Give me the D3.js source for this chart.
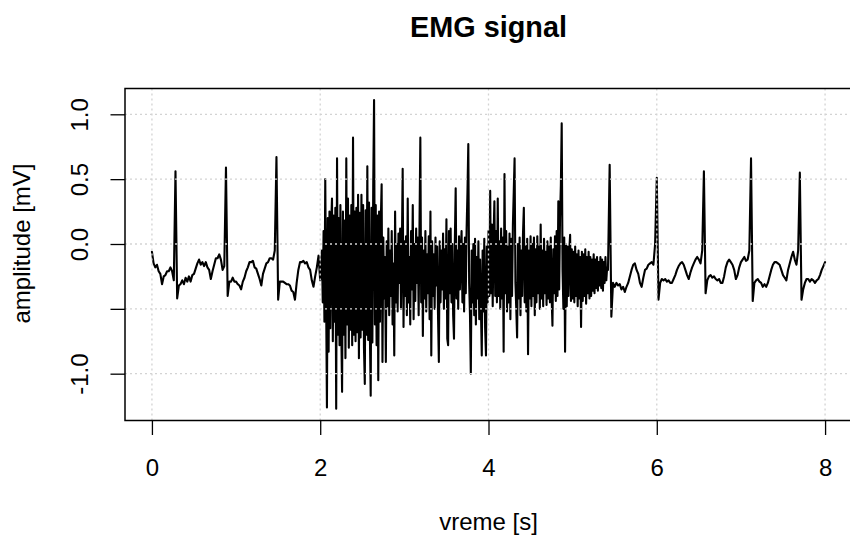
<!DOCTYPE html>
<html>
<head>
<meta charset="utf-8">
<script src="https://cdn.jsdelivr.net/npm/d3@7"></script>
<style>
  body { margin: 0; background: #fff; }
  svg { display: block; font-family: "Liberation Sans", Arial, sans-serif; }
</style>
</head>
<body>
<svg id="chart" width="850" height="538"></svg>
<script>
// ECG before the contraction, 0.00 .. 2.00 s, step 0.02 s
var ecgStart = [
  -0.06, -0.15, -0.18, -0.16, -0.21, -0.23, -0.31, -0.25, -0.24, -0.21,
  -0.21, -0.18, -0.21, -0.28,  0.56, -0.42, -0.32, -0.31, -0.28, -0.31,
  -0.26, -0.29, -0.25, -0.29, -0.24, -0.23, -0.19, -0.15, -0.12, -0.16,
  -0.14, -0.17, -0.14, -0.18, -0.20, -0.27, -0.21, -0.16, -0.11, -0.11,
  -0.08, -0.12, -0.20, -0.17,  0.59, -0.40, -0.29, -0.29, -0.26, -0.29,
  -0.29, -0.31, -0.32, -0.35, -0.29, -0.26, -0.21, -0.18, -0.14, -0.14,
  -0.13, -0.18, -0.19, -0.23, -0.27, -0.32, -0.23, -0.19, -0.15, -0.14,
  -0.11, -0.11, -0.12, -0.05,  0.67, -0.43, -0.29, -0.29, -0.29, -0.30,
  -0.31, -0.31, -0.32, -0.36, -0.37, -0.43, -0.30, -0.20, -0.14, -0.14,
  -0.13, -0.15, -0.14, -0.18, -0.20, -0.28, -0.33, -0.25, -0.18, -0.09,
  -0.28
];

// muscle burst, 2.02 .. 5.41 s, step 0.01 s
var emgBurst = [
  -0.05, -0.45,  0.10, -0.60,  0.50, -0.40, -1.26,  0.20, -0.83,  0.25,
  -0.65,  0.15,  0.35, -0.75,  0.22, -0.60,  0.28, -1.27,  0.66, -0.70,
   0.20, -0.78,  0.30, -0.65, -1.14,  0.25, -0.70,  0.18, -0.88,  0.66,
  -0.62,  0.35, -0.80,  0.22, -0.66,  0.30, -0.78,  0.82, -0.70,  0.25,
  -0.75,  0.28, -0.68,  0.38, -0.88,  0.24, -0.72,  0.38, -0.66,  0.30,
  -0.80, -1.08,  0.26, -0.70,  0.60, -0.74,  0.32, -0.68, -1.17,  0.28,
  -0.76,  0.45,  1.11, -0.62,  0.30, -0.78,  0.22, -1.05,  0.25, -0.60,
   0.18,  0.46, -0.91,  0.05, -0.42, -0.10, -0.91,  0.02, -0.48,  0.12,
  -0.55, -0.05, -0.40,  0.10, -0.62, -0.15, -0.86,  0.25, -0.45,  0.00,
  -0.52,  0.08, -0.30,  0.12, -0.50, -0.05,  0.58, -0.64,  0.02, -0.40,
   0.06, -0.55,  0.35, -0.45, -0.10, -0.62,  0.10, -0.35,  0.30, -0.58,
   0.00, -0.44,  0.12, -0.30,  0.05, -0.55,  0.15,  0.82, -0.45,  0.05,
  -0.71, -0.05, -0.42,  0.10, -0.52, -0.08, -0.38,  0.06, -0.58,  0.25,
  -0.86,  0.02, -0.40, -0.08, -0.50,  0.05, -0.32, -0.02, -0.55, -0.91,
   0.02, -0.45, -0.05, -0.35,  0.08, -0.50, -0.04, -0.42,  0.19, -0.73,
  -0.78,  0.10, -0.38,  0.12, -0.45,  0.00, -0.55, -0.73,  0.02,  0.43,
  -0.42, -0.05, -0.50,  0.06, -0.35, -0.08,  0.10, -0.45,  0.00, -0.52,
   0.05, -0.38,  0.12,  0.40,  0.77, -0.30, -0.55, -1.00, -0.05, -0.45,
   0.00, -0.55,  0.04, -0.62, -0.10, -0.42,  0.02, -0.58, -0.12, -0.50,
  -0.86, -0.05, -0.52,  0.04, -0.65, -0.86, -0.02, -0.45,  0.10, -0.40,
   0.41, -0.38,  0.15, -0.48,  0.05,  0.33, -0.40,  0.10, -0.45,  0.35,
  -0.40,  0.02, -0.50,  0.12, -0.42,  0.05, -0.83,  0.54, -0.38,  0.10,
  -0.52, -0.02, -0.45,  0.08, -0.58,  0.04, -0.40,  0.15,  0.40,  0.66,
  -0.30, -0.50, -0.72,  0.00, -0.42,  0.05, -0.55, -0.05, -0.40,  0.08,
   0.28, -0.45, -0.02, -0.52,  0.04, -0.85, -0.05, -0.42,  0.06, -0.48,
   0.00, -0.40,  0.05, -0.55, -0.04, -0.45,  0.06, -0.38, -0.02, -0.50,
   0.15, -0.42, -0.05, -0.48,  0.04, -0.38, -0.06, -0.47,  0.02, -0.42,
  -0.02, -0.45,  0.05, -0.40, -0.63, -0.04, -0.38,  0.06, -0.44,  0.10,
  -0.40,  0.33, -0.35,  0.20,  0.45,  0.93, -0.20, -0.50,  0.05, -0.83,
   0.00, -0.48, -0.02, -0.40, -0.05,  0.07, -0.44, -0.04, -0.42, -0.06,
  -0.45, -0.02, -0.40, -0.08, -0.48, -0.05, -0.42, -0.10, -0.64, -0.06,
  -0.44, -0.08, -0.40, -0.04, -0.46, -0.10, -0.38, -0.06, -0.42, -0.10,
  -0.40, -0.12, -0.36, -0.08, -0.38, -0.12, -0.34, -0.10, -0.36, -0.14,
  -0.32, -0.10, -0.34, -0.12, -0.36, -0.14, -0.30, -0.10, -0.28, -0.18
];

// ECG after the contraction, 5.42 .. 8.00 s, step 0.02 s
var ecgEnd = [
  -0.20,  0.61, -0.56, -0.30, -0.33, -0.30, -0.32, -0.31, -0.35, -0.33,
  -0.37, -0.33, -0.30, -0.25, -0.20, -0.16, -0.15, -0.20, -0.23, -0.30,
  -0.33, -0.26, -0.20, -0.19, -0.16, -0.15, -0.14, -0.16,  0.00,  0.51,
  -0.43, -0.30, -0.27, -0.28, -0.27, -0.29, -0.28, -0.30, -0.30, -0.27,
  -0.24, -0.20, -0.17, -0.15, -0.14, -0.16, -0.20, -0.24, -0.27, -0.22,
  -0.18, -0.15, -0.12, -0.10, -0.12, -0.15, -0.05,  0.56, -0.38, -0.28,
  -0.25, -0.24, -0.26, -0.25, -0.27, -0.28, -0.27, -0.30, -0.30, -0.25,
  -0.18, -0.14, -0.12, -0.14, -0.16, -0.20, -0.27, -0.24, -0.18, -0.14,
  -0.12, -0.10, -0.13, -0.12, -0.05,  0.66, -0.44, -0.30, -0.28, -0.27,
  -0.29, -0.30, -0.33, -0.31, -0.33, -0.30, -0.25, -0.20, -0.16, -0.14,
  -0.14, -0.15, -0.16, -0.20, -0.24, -0.26, -0.28, -0.20, -0.15, -0.10,
  -0.06, -0.12, -0.16, -0.05,  0.55, -0.43, -0.35, -0.30, -0.27, -0.27,
  -0.29, -0.27, -0.28, -0.30, -0.28, -0.27, -0.24, -0.20, -0.17, -0.14
];

var xTicks = [0, 2, 4, 6, 8];
var yTicks = [-1.0, -0.5, 0.0, 0.5, 1.0];
var yTickLabels = ["-1.0", "", "0.0", "0.5", "1.0"];

var segments = [
  { t0: 0.00, dt: 0.02, values: ecgStart },
  { t0: 2.02, dt: 0.01, values: emgBurst },
  { t0: 5.42, dt: 0.02, values: ecgEnd }
];

var signal = [];
segments.forEach(function(seg) {
  seg.values.forEach(function(v, i) {
    signal.push({ t: seg.t0 + i * seg.dt, v: v });
  });
});

var svg = d3.select('#chart');
// plot box (right edge falls just outside the 850px picture, as in the reference)
var plotLeft = 125, plotRight = 852, plotTop = 88.5, plotBottom = 420.5;

var x = d3.scaleLinear().domain([-0.32, 8.32]).range([plotLeft, plotRight]);
var y = d3.scaleLinear().domain([-1.361, 1.199]).range([plotBottom, plotTop]);

svg.append('rect')
  .attr('width', 850).attr('height', 538).attr('fill', '#fff');

// signal
var line = d3.line()
  .x(function(d) { return x(d.t); })
  .y(function(d) { return y(d.v); });

svg.append('path')
  .datum(signal)
  .attr('d', line)
  .attr('fill', 'none')
  .attr('stroke', '#000')
  .attr('stroke-width', 2.1)
  .attr('stroke-linejoin', 'round')
  .attr('stroke-linecap', 'round');

// grid on top of the trace, like grid() after plot()
var grid = svg.append('g')
  .attr('stroke', '#d3d3d3')
  .attr('stroke-width', 1.3)
  .attr('stroke-dasharray', '2,3');

grid.selectAll('.gx')
  .data(xTicks)
  .enter()
  .append('line')
    .attr('x1', function(d) { return x(d); })
    .attr('x2', function(d) { return x(d); })
    .attr('y1', plotTop).attr('y2', plotBottom);

grid.selectAll('.gy')
  .data(yTicks)
  .enter()
  .append('line')
    .attr('x1', plotLeft).attr('x2', plotRight)
    .attr('y1', function(d) { return y(d); })
    .attr('y2', function(d) { return y(d); });

// frame
svg.append('rect')
  .attr('x', plotLeft).attr('y', plotTop)
  .attr('width', plotRight - plotLeft).attr('height', plotBottom - plotTop)
  .attr('fill', 'none')
  .attr('stroke', '#000')
  .attr('stroke-width', 1.5);

// x axis
var xAxis = svg.append('g')
  .attr('transform', 'translate(0,' + plotBottom + ')')
  .call(d3.axisBottom(x).tickValues(xTicks).tickFormat(d3.format('d')).tickSize(14.5).tickPadding(24));
xAxis.select('.domain').remove();
xAxis.selectAll('line').attr('stroke', '#000').attr('stroke-width', 1.3);
xAxis.selectAll('text')
  .attr('fill', '#000')
  .style('font-size', '24px')
  .style('font-family', '"Liberation Sans", Arial, sans-serif');

// y axis, labels turned along the axis
var yAxis = svg.append('g')
  .attr('transform', 'translate(' + plotLeft + ',0)')
  .call(d3.axisLeft(y).tickValues(yTicks).tickFormat(function(d, i) { return yTickLabels[i]; }).tickSize(14.5));
yAxis.select('.domain').remove();
yAxis.selectAll('line').attr('stroke', '#000').attr('stroke-width', 1.3);
yAxis.selectAll('text')
  .attr('x', null)
  .attr('dy', null)
  .attr('text-anchor', 'middle')
  .attr('transform', 'translate(-37,0) rotate(-90)')
  .attr('fill', '#000')
  .style('font-size', '24px')
  .style('font-family', '"Liberation Sans", Arial, sans-serif');

// titles
svg.append('text')
  .attr('x', (plotLeft + plotRight) / 2)
  .attr('y', 36.7)
  .attr('text-anchor', 'middle')
  .style('font-size', '28.8px')
  .style('font-weight', 'bold')
  .text('EMG signal');

svg.append('text')
  .attr('x', (plotLeft + plotRight) / 2)
  .attr('y', 530)
  .attr('text-anchor', 'middle')
  .style('font-size', '24px')
  .text('vreme [s]');

svg.append('text')
  .attr('transform', 'translate(30,243.5) rotate(-90)')
  .attr('text-anchor', 'middle')
  .style('font-size', '24px')
  .text('amplitude [mV]');
</script>
</body>
</html>
